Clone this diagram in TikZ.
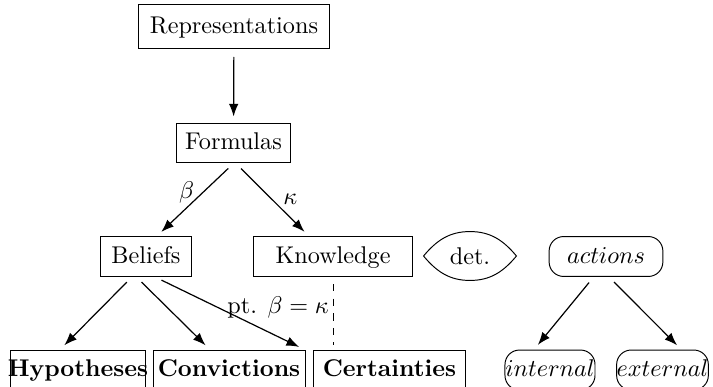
\documentclass[tikz,border=0pt]{standalone}
\usepackage{tikz}
\usetikzlibrary{arrows.meta}

\begin{document}
\begin{tikzpicture}[
    x=0.4132pt, y=-0.4132pt,
    box/.style={rectangle, draw, align=center, inner xsep=2pt, minimum height=16.5pt, text height=1.5ex, text depth=.25ex},
    bottombox/.style={box, font=\bfseries, inner xsep=0pt},
    roundbox/.style={rectangle, draw, rounded corners=6pt, inner xsep=0pt, minimum height=16.5pt, text height=1.5ex, text depth=.25ex},
    arrow/.style={-Latex, line width=0.5pt, shorten <=3pt, shorten >=2.5pt}
  ]
    \useasboundingbox (0,0) rectangle (713,387);
    % top chain
    \node[box, minimum width=79.3pt, minimum height=17.8pt] (rep) at (234,26.5) {Representations};
    \node[box, minimum width=47.5pt] (frm) at (233.5,143) {Formulas};
    \node[box, minimum width=38pt] (bel) at (146,256.5) {Beliefs};
    \node[box, minimum width=66pt] (kno) at (333,256.5) {Knowledge};
    \node[minimum width=38pt, minimum height=19.8pt, inner sep=0pt] (det) at (470,256) {det.};
    \node[roundbox, minimum width=47pt] (act) at (606,256.5) {$actions$};
    % bottom row
    \node[bottombox, minimum width=55.4pt] (hyp) at (78,370) {\makebox[55.4pt]{Hypotheses}};
    \node[bottombox, minimum width=62.8pt] (con) at (229,370) {Convictions};
    \node[bottombox, minimum width=63.2pt] (cer) at (389.5,370) {Certainties};
    \node[roundbox, minimum width=37.2pt] (int) at (550,370) {$internal$};
    \node[roundbox, minimum width=37.6pt] (ext) at (662.5,370) {$external$};
    % lens round det.
    \draw (det.west) to[out=50,in=180] (det.north) to[out=0,in=130] (det.east)
      to[out=-130,in=0] (det.south) to[out=180,in=-50] (det.west);
    % edges
    \draw[arrow, shorten <=3.5pt] (rep) -- (frm);
    \draw[arrow] (frm.south) -- node[pos=0.4, left] {$\beta$} ([xshift=4.5pt]bel.north);
    \draw[arrow] ([xshift=1pt]frm.south) -- node[midway, right, xshift=1pt] {$\kappa$} ([xshift=-10pt]kno.north);
    \draw[arrow] ([xshift=-5.8pt]bel.south) -- ([xshift=-7.4pt]hyp.north);
    \draw[arrow] ([xshift=-4pt]bel.south) -- ([xshift=-7.9pt]con.north);
    \draw[arrow] ([xshift=3.7pt]bel.south) -- node[midway, xshift=20pt, yshift=2.5pt] {pt. $\beta = \kappa$} ([xshift=-3.3pt]cer.north west);
    \draw[dashed, shorten <=3pt, shorten >=2pt] (kno.south) -- (kno.south |- cer.north);
    \draw[arrow] ([xshift=-5.1pt]act.south) -- ([xshift=-6.6pt]int.north);
    \draw[arrow] ([xshift=1.2pt]act.south) -- ([xshift=7.8pt]ext.north);
\end{tikzpicture}
\end{document}
